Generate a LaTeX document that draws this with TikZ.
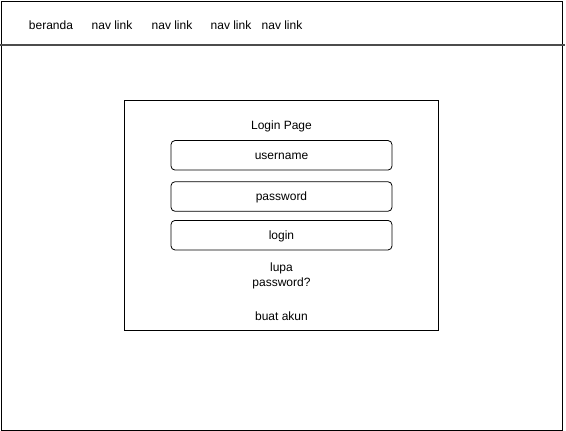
\documentclass[tikz,border=0pt]{standalone}
\usepackage{fontspec}
\setmainfont{Liberation Sans}
\begin{document}
\begin{tikzpicture}[x=1pt,y=-1pt,
  txt/.style={inner sep=0pt,font=\fontsize{12}{15}\selectfont,align=center},
  field/.style={draw,rounded corners=4pt,line width=0.8pt},
  frame/.style={draw,line width=0.8pt}]
\useasboundingbox (0,0) rectangle (566,431);
\draw[frame] (1,1) rectangle (562,430);
\coordinate (hl) at (0,45);
\coordinate (hr) at (565,45);
\draw[line width=1.4pt,black!70] (hl) -- (hr);
\node[txt] (nav0) at (51,25) {beranda};
\node[txt] (nav1) at (112,25) {nav link};
\node[txt] (nav2) at (172,25) {nav link};
\node[txt] (nav3) at (231,25) {nav link};
\node[txt] (nav4) at (282,25) {nav link};
\node[frame,minimum width=314pt,minimum height=230pt,inner sep=0pt] (box) at (281.5,215) {};
\node[txt] (title) at (281.5,126) {Login Page};
\node[field,minimum width=221pt,minimum height=29.5pt,inner sep=0pt] (user) at (281.5,155.3) {};
\node[txt] at ([yshift=-1pt]user.center) {username};
\node[field,minimum width=221pt,minimum height=29.5pt,inner sep=0pt] (pass) at (281.5,196.5) {};
\node[txt] at ([yshift=-1pt]pass.center) {password};
\node[field,minimum width=221pt,minimum height=29.5pt,inner sep=0pt] (login) at (281.5,235.2) {};
\node[txt] at ([yshift=-1pt]login.center) {login};
\node[txt] (lupa) at (281.5,275.5) {lupa\\password?};
\node[txt] (buat) at (281.5,316) {buat akun};
\end{tikzpicture}
\end{document}
